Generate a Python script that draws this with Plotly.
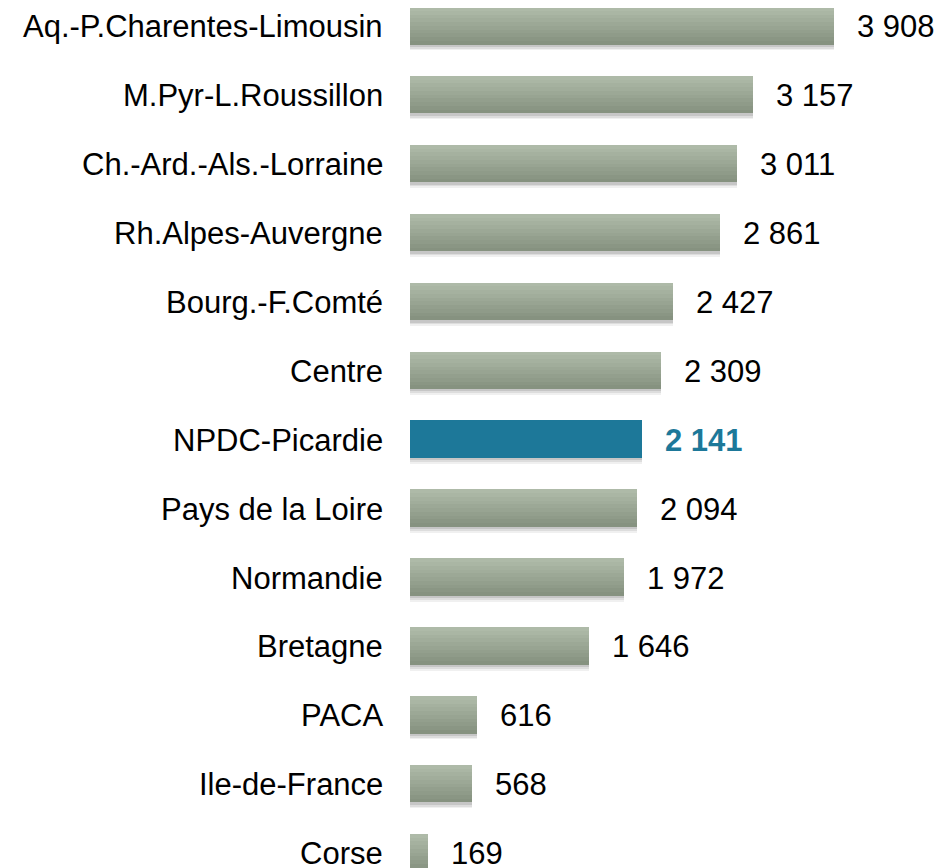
import plotly.graph_objects as go

regions = ["Aq.-P.Charentes-Limousin", "M.Pyr-L.Roussillon", "Ch.-Ard.-Als.-Lorraine",
           "Rh.Alpes-Auvergne", "Bourg.-F.Comté", "Centre", "NPDC-Picardie",
           "Pays de la Loire", "Normandie", "Bretagne", "PACA", "Ile-de-France", "Corse"]
values = [3908, 3157, 3011, 2861, 2427, 2309, 2141, 2094, 1972, 1646, 616, 568, 169]
highlight = "NPDC-Picardie"

FONT = "Liberation Sans, Arial, Helvetica, sans-serif"
BLUE = "#1d7899"
W = 0.544
rows = list(range(len(regions)))
hi = regions.index(highlight)

fig = go.Figure()

# soft shadow under each bar
for extra, alpha in [(0.075, 0.06), (0.05, 0.08), (0.025, 0.10)]:
    fig.add_trace(go.Bar(x=values, y=rows, orientation="h", width=W,
                         offset=-W / 2 + extra + 0.01,
                         marker=dict(color=f"rgba(0,0,0,{alpha})", line_width=0),
                         hoverinfo="skip", showlegend=False))

# vertical gradient on grey bars, light on top, darker at bottom
top = (174, 186, 168)
bot = (134, 146, 128)
N = 10
for k in range(N):
    t = k / (N - 1)
    c = tuple(round(top[i] + (bot[i] - top[i]) * t) for i in range(3))
    fig.add_trace(go.Bar(x=values, y=rows, orientation="h",
                         width=W - k * W / N, offset=-W / 2 + k * W / N,
                         marker=dict(color="rgb(%d,%d,%d)" % c, line_width=0),
                         hoverinfo="skip", showlegend=False))

# highlighted region
fig.add_trace(go.Bar(x=[values[hi]], y=[hi], orientation="h", width=W,
                     offset=-W / 2, marker=dict(color=BLUE, line_width=0),
                     hoverinfo="skip", showlegend=False))

for i, (name, v) in enumerate(zip(regions, values)):
    is_hi = i == hi
    # category label (annotation so the bottom one is not dropped)
    fig.add_annotation(x=0, xref="paper", y=i, text=name,
                       showarrow=False, xanchor="right", yanchor="middle",
                       xshift=-25, yshift=-1,
                       font=dict(family=FONT, size=31, color="black"))
    # value label
    fig.add_annotation(x=v, y=i, text=f"{v:,}".replace(",", " "),
                       showarrow=False, xanchor="left", yanchor="middle",
                       xshift=21, yshift=-1,
                       font=dict(family=FONT, size=31,
                                 color=BLUE if is_hi else "black",
                                 weight="bold" if is_hi else "normal"))

# page body has an 8px margin, so the figure is sized to fit the window
fig.update_layout(
    width=935, height=860,
    margin=dict(l=402, r=0, t=0, b=0),
    plot_bgcolor="white", paper_bgcolor="white",
    barmode="overlay", bargap=0,
    xaxis=dict(range=[0, 4912], visible=False, showgrid=False, zeroline=False),
    yaxis=dict(range=[12.223, -0.2583], showticklabels=False,
               showgrid=False, zeroline=False, showline=False, ticks=""),
)

fig.write_html("out.html")
